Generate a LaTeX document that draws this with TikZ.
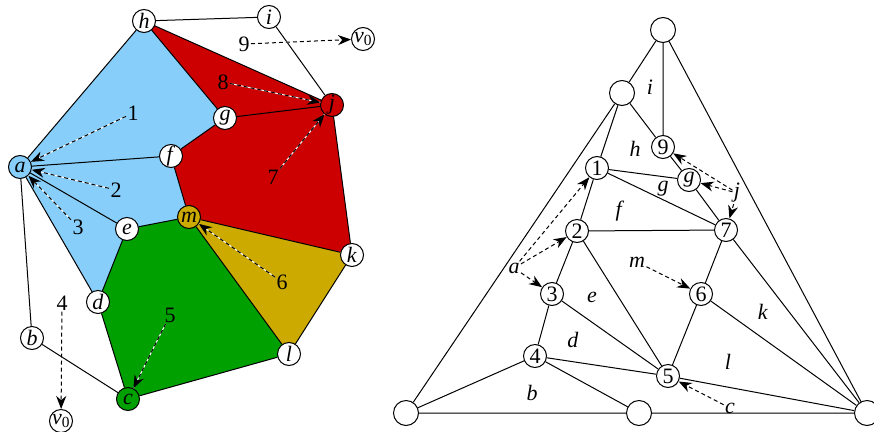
\documentclass[tikz,border=0pt]{standalone}
\usepackage{fontspec}
\setmainfont{Liberation Serif}
\usetikzlibrary{arrows.meta,backgrounds}
\definecolor{skyblue}{HTML}{87CEFA}
\definecolor{facered}{HTML}{CC0000}
\definecolor{mustard}{HTML}{CCAA00}
\definecolor{facegreen}{HTML}{00A000}
\newcommand{\bigtext}{\fontsize{22}{25}\selectfont}

\begin{document}
\begin{tikzpicture}[x=1pt, y=-1pt, line width=1pt,
  vtx/.style={draw, circle, fill=#1, inner sep=0pt, minimum size=23pt, font=\bigtext},
  vtx/.default=white,
  bigvtx/.style={draw, circle, fill=white, inner sep=0pt, minimum size=25pt},
  lbl/.style={inner sep=1pt, font=\bigtext},
  arr/.style={-{Stealth[length=13pt,width=10pt]}, dash pattern=on 4pt off 3pt,
              preaction={draw=white, solid, -}}]
\useasboundingbox (0,0) rectangle (874,431);

% left: the plane graph with coloured faces
\node[vtx] (h) at (144,21) {\textit{h}};
\node[vtx] (i) at (269,17) {\textit{i}};
\node[vtx] (vt) at (363,39) {\textit{v}\textsubscript{0}};
\node[vtx=facered] (j) at (332,105) {\textit{j}};
\node[vtx] (g) at (225,118) {\textit{g}};
\node[vtx] (f) at (171,156) {\textit{f}};
\node[vtx=skyblue] (a) at (20,167) {\textit{a}};
\node[vtx=mustard] (m) at (189,217) {\textit{m}};
\node[vtx] (e) at (127,229) {\textit{e}};
\node[vtx] (k) at (352,255) {\textit{k}};
\node[vtx] (d) at (98,302) {\textit{d}};
\node[vtx] (b) at (32,338) {\textit{b}};
\node[vtx] (l) at (289,354) {\textit{l}};
\node[vtx=facegreen] (c) at (128,399) {\textit{c}};
\node[vtx] (vb) at (61,421) {\textit{v}\textsubscript{0}};

\begin{scope}[on background layer]
  \fill[skyblue] (a.center) -- (h.center) -- (g.center) -- (f.center) -- (m.center)
    -- (e.center) -- (d.center) -- cycle;
  \fill[facered] (h.center) -- (j.center) -- (k.center) -- (m.center) -- (f.center)
    -- (g.center) -- cycle;
  \fill[mustard] (m.center) -- (k.center) -- (l.center) -- cycle;
  \fill[facegreen] (m.center) -- (l.center) -- (c.center) -- (d.center) -- (e.center) -- cycle;
\end{scope}

\draw (h) -- (i) (i) -- (j) (h) -- (j) (h) -- (a) (h) -- (g) (g) -- (j);
\draw (g) -- (f) (f) -- (a) (f) -- (m) (a) -- (e) (e) -- (m) (a) -- (d);
\draw (a) -- (b) (b) -- (c) (c) -- (d) (d) -- (e) (c) -- (l) (l) -- (m);
\draw (l) -- (k) (k) -- (m) (k) -- (j);

\node[lbl] (n1) at (133,113) {1};
\node[lbl] (n2) at (116,190) {2};
\node[lbl] (n3) at (78,227) {3};
\node[lbl] (n4) at (62,303) {4};
\node[lbl] (n5) at (170,315) {5};
\node[lbl] (n6) at (282,282) {6};
\node[lbl] (n7) at (273,177) {7};
\node[lbl] (n8) at (223,82) {8};
\node[lbl] (n9) at (244,44) {9};
\draw[arr] (n1) -- (a);
\draw[arr] (n2) -- (a);
\draw[arr] (n3) -- (a);
\draw[arr] (n4) -- (vb);
\draw[arr] (n5) -- (c);
\draw[arr] (n6) -- (m);
\draw[arr] (n7) -- (j);
\draw[arr] (n8) -- (j);
\draw[arr] (n9) -- (vt);

% right: the dual triangulation
\node[bigvtx] (top) at (663,30) {};
\node[bigvtx] (up) at (622,93) {};
\node[bigvtx] (bl) at (406,413) {};
\node[bigvtx] (bm) at (639,413) {};
\node[bigvtx] (br) at (867,413) {};
\node[vtx] (p9) at (663,147) {9};
\node[vtx] (p1) at (597,168) {1};
\node[vtx] (pg) at (689,180) {\textit{g}};
\node[vtx] (p7) at (726,230) {7};
\node[vtx] (p2) at (577,231) {2};
\node[vtx] (p3) at (552,294) {3};
\node[vtx] (p6) at (701,294) {6};
\node[vtx] (p4) at (535,356) {4};
\node[vtx] (p5) at (668,376) {5};

\draw (top) -- (up) (top) -- (p9) (top) -- (br) (up) -- (bl) (up) -- (p1) (up) -- (p9);
\draw (p9) -- (pg) (pg) -- (p1) (pg) -- (p7) (p1) -- (p7) (p1) -- (p2) (p2) -- (p7);
\draw (p2) -- (p3) (p2) -- (p5) (p3) -- (p5) (p3) -- (p4) (p4) -- (p5);
\draw (p4) -- (bl) (p4) -- (bm) (bl) -- (bm) (bm) -- (br) (p5) -- (br);
\draw (p5) -- (p6) (p6) -- (p7) (p6) -- (br) (p7) -- (br);

\node[lbl] (ti) at (650,87) {\textit{i}};
\node[lbl] (th) at (635,149) {\textit{h}};
\node[lbl] (tg) at (663,189) {\textit{g}};
\node[lbl] (tf) at (620,211) {\textit{f}};
\node[lbl] (te) at (592,297) {\textit{e}};
\node[lbl] (td) at (573,340) {\textit{d}};
\node[lbl] (tb) at (532,393) {\textit{b}};
\node[lbl] (tl) at (728,362) {\textit{l}};
\node[lbl] (tk) at (763,312) {\textit{k}};
\node[lbl] (la) at (514,268) {\textit{a}};
\node[lbl] (lm) at (637,262) {\textit{m}};
\node[lbl] (lc) at (730,408) {\textit{c}};
\node[lbl] (lj) at (737,193) {\textit{j}};
\draw[arr] (la) -- (p1);
\draw[arr] (la) -- (p2);
\draw[arr] (la) -- (p3);
\draw[arr] (lm) -- (p6);
\draw[arr] (lc) -- (p5);
\draw[arr] (lj) -- (p9);
\draw[arr] (lj) -- (pg);
\draw[arr] (lj) -- (p7);
\end{tikzpicture}
\end{document}
